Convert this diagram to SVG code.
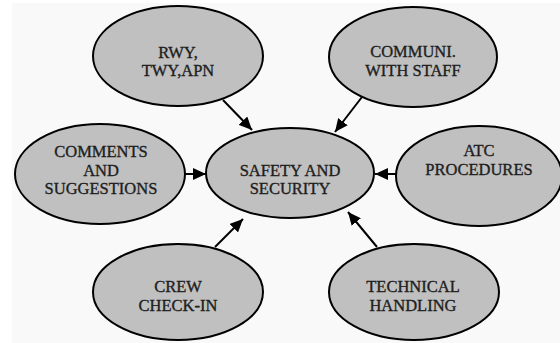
<svg xmlns="http://www.w3.org/2000/svg" width="560" height="343" viewBox="0 0 560 343">
  <style>
    .node ellipse { fill: #c0c0c0; stroke: #000; stroke-width: 2; }
    .node text { font-family: "Liberation Serif", "Times New Roman", serif; font-size: 16.5px; fill: #1e1e1e; stroke: #1e1e1e; stroke-width: 0.35; text-anchor: middle; }
    .edge { stroke: #000; stroke-width: 2; fill: none; marker-end: url(#head); }
  </style>
  <defs>
    <marker id="head" viewBox="0 0 13 12" refX="13" refY="6" markerWidth="13" markerHeight="12" markerUnits="userSpaceOnUse" orient="auto">
      <path d="M0,0 L13,6 L0,12 Z" fill="#000"/>
    </marker>
  </defs>

  <rect x="0" y="0" width="560" height="343" fill="#ffffff"/>
  <rect x="12" y="3" width="548" height="340" fill="#f9f9f9"/>

  <!-- connectors: every outer topic points into the central node -->
  <g id="connectors">
    <line class="edge" x1="223" y1="100" x2="252" y2="130"/>
    <line class="edge" x1="362" y1="97" x2="335" y2="132"/>
    <line class="edge" x1="184" y1="174" x2="206" y2="174"/>
    <line class="edge" x1="396" y1="174" x2="375" y2="174"/>
    <line class="edge" x1="215" y1="247" x2="243" y2="219"/>
    <line class="edge" x1="377" y1="247" x2="348" y2="212"/>
  </g>

  <g id="safety" class="node">
    <ellipse cx="290" cy="173" rx="84" ry="45"/>
    <text x="290" y="176">SAFETY AND</text>
    <text x="290" y="194">SECURITY</text>
  </g>

  <g id="rwy" class="node">
    <ellipse cx="178" cy="56" rx="85" ry="50"/>
    <text x="178" y="58">RWY,</text>
    <text x="178" y="76">TWY,APN</text>
  </g>

  <g id="communi" class="node">
    <ellipse cx="413" cy="57" rx="84" ry="50"/>
    <text x="413" y="57">COMMUNI.</text>
    <text x="413" y="76">WITH STAFF</text>
  </g>

  <g id="comments" class="node">
    <ellipse cx="100" cy="174" rx="85" ry="50"/>
    <text x="101" y="157">COMMENTS</text>
    <text x="101" y="175.5">AND</text>
    <text x="101" y="194">SUGGESTIONS</text>
  </g>

  <g id="atc" class="node">
    <ellipse cx="479" cy="176" rx="83" ry="50"/>
    <text x="479" y="156">ATC</text>
    <text x="479" y="175">PROCEDURES</text>
  </g>

  <g id="crew" class="node">
    <ellipse cx="178" cy="292" rx="85" ry="48"/>
    <text x="178" y="292">CREW</text>
    <text x="178" y="311">CHECK-IN</text>
  </g>

  <g id="technical" class="node">
    <ellipse cx="414" cy="292" rx="85" ry="48"/>
    <text x="413" y="292">TECHNICAL</text>
    <text x="413" y="311">HANDLING</text>
  </g>
</svg>
